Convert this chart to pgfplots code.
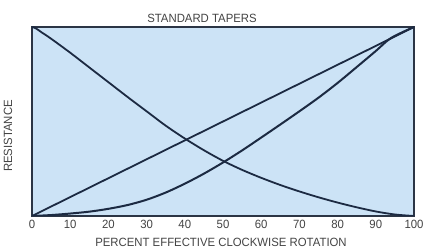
\documentclass[border=0pt]{standalone}
\usepackage{pgfplots}
\pgfplotsset{compat=1.18}
\usepackage{fontspec}
\setmainfont{Liberation Sans}[FakeStretch=0.95]
\definecolor{bgblue}{HTML}{CCE3F6}
\definecolor{framec}{HTML}{2B3545}
\definecolor{linec}{HTML}{1C2A42}
\definecolor{txtgray}{HTML}{444444}
\tikzset{curve/.style={draw=linec, line width=1.8bp, mark=none, smooth}}
\begin{document}
\begin{tikzpicture}
\path[use as bounding box] (0,0) rectangle (428bp,248bp);
\begin{axis}[
  at={(32bp,32bp)}, anchor=south west,
  scale only axis, width=382bp, height=189bp,
  xmin=0, xmax=100, ymin=0, ymax=100,
  xtick={0,10,...,100}, ytick=\empty,
  tick style={draw=none},
  axis background/.style={fill=bgblue},
  axis line style={draw=framec, line width=1.8bp},
  xticklabel style={font=\fontsize{12}{14}\selectfont, text=txtgray, yshift=-1bp},
  /pgf/number format/assume math mode=true,
]
% linear taper
\addplot[curve] coordinates {(0,0) (100,100)};
% audio (log) taper
\addplot[curve, line width=2bp] coordinates {
(0,0) (5,0.5) (10,1.3) (15,2.3) (20,3.8) (25,5.8) (30,8.6) (35,12.4)
(40,17.1) (45,22.4) (50,28.3) (55,34.7) (60,41.5) (65,48.4) (70,55.4)
(75,62.6) (80,70.4) (85,78.8) (90,87.3) (94,94.2) (100,100)};
% reverse log taper
\addplot[curve] coordinates {
(0,100) (1,99.3) (2.5,97.2) (5,93.8) (10,86.4) (15,78.6) (20,70.8) (25,63)
(30,55.4) (35,47.8) (40,41) (45,34.8) (50,29.2) (55,24.4) (60,20.2)
(65,16.4) (70,13) (75,9.9) (80,7.1) (85,4.6) (90,2.4) (95,0.8) (100,0)};
\end{axis}
\node[text=txtgray, font=\fontsize{12}{14}\selectfont] at (202bp,230bp) {STANDARD TAPERS};
\node[text=txtgray, font=\fontsize{12}{14}\selectfont] at (221bp,6bp) {PERCENT EFFECTIVE CLOCKWISE ROTATION};
\node[text=txtgray, font=\fontsize{12}{14}\selectfont, rotate=90] at (8bp,112bp) {RESISTANCE};
\end{tikzpicture}
\end{document}
